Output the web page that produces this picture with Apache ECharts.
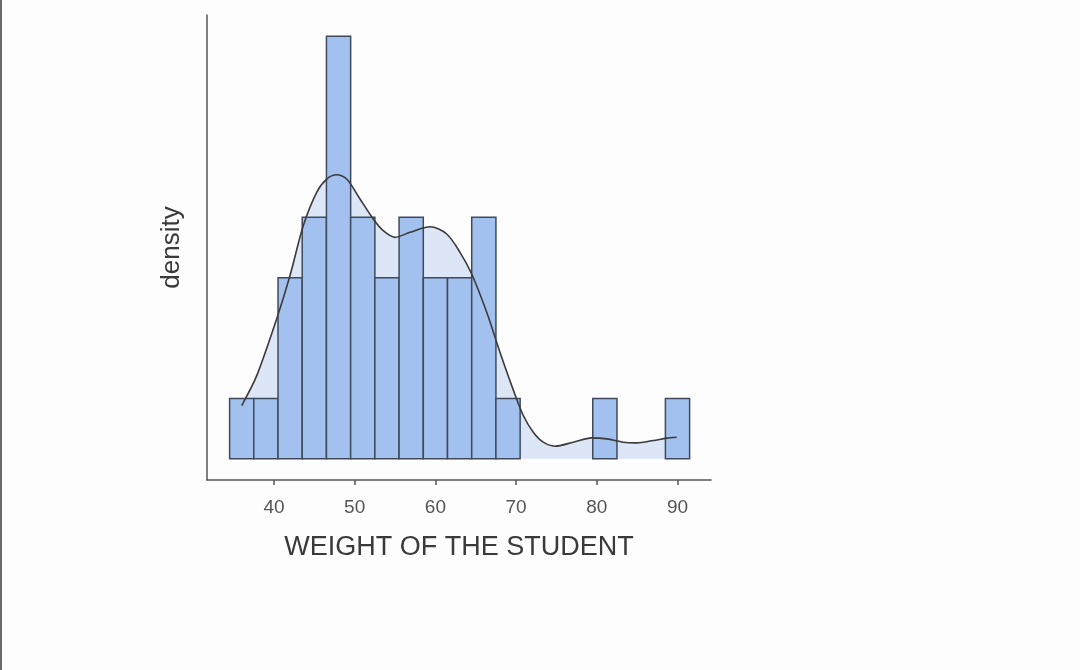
<!DOCTYPE html>
<html>
<head>
<meta charset="utf-8">
<script src="https://cdn.jsdelivr.net/npm/echarts@6/dist/echarts.min.js"></script>
<style>
  html, body { margin: 0; padding: 0; background: #fdfdfd; }
  #chart { position: absolute; left: 0; top: 0; width: 1080px; height: 670px; }
  #edge { position: absolute; left: 0; top: 0; width: 2px; height: 670px; background: #6b6b6b; }
</style>
</head>
<body>
<div id="chart"></div>
<div id="edge"></div>
<script>
// histogram bins: width 3, starting at 34.5
const binStart = 34.5;
const binWidth = 3;
const binCounts = [1, 1, 3, 4, 7, 4, 3, 4, 3, 3, 4, 1, 0, 0, 0, 1, 0, 0, 1];

// kernel density estimate
const densityX = [36.0, 37.86, 40.33, 41.98, 43.63, 45.29, 46.53, 47.77, 49.01, 50.66,
  52.3, 53.54, 54.99, 56.85, 59.33, 61.4, 63.05, 64.5, 66.36, 68.0,
  69.65, 70.89, 72.13, 73.37, 74.82, 77.09, 79.37, 81.23, 83.28, 84.94,
  87.0, 88.66, 89.9];
const densityY = [0.00735, 0.01148, 0.01931, 0.02528, 0.03218, 0.03678, 0.03861, 0.03921, 0.03861, 0.03586,
  0.0331, 0.03148, 0.03057, 0.03126, 0.03203, 0.03103, 0.0285, 0.02551, 0.02023, 0.01471,
  0.00952, 0.00598, 0.00368, 0.0023, 0.00175, 0.0023, 0.0029, 0.00276, 0.0023, 0.00221,
  0.00253, 0.00286, 0.00299];

const xTicks = [40, 50, 60, 70, 80, 90];

const total = binCounts.reduce((a, b) => a + b, 0);
const binData = binCounts.map((c, i) => [binStart + i * binWidth, binStart + (i + 1) * binWidth, c / (total * binWidth)]);
const curveData = densityX.map((x, i) => [x, densityY[i]]);
const maxBar = Math.max(...binData.map(d => d[2]));

const chart = echarts.init(document.getElementById("chart"));

chart.setOption({
  animation: false,
  grid: { left: 207, right: 369, top: 15, bottom: 190 },
  xAxis: {
    type: "value",
    min: 31.7,
    max: 94.15,
    interval: 10,
    name: "WEIGHT OF THE STUDENT",
    nameLocation: "middle",
    nameGap: 54,
    nameTextStyle: { fontSize: 27, color: "#3a3a3a", fontFamily: "Liberation Sans" },
    axisLine: { onZero: false, lineStyle: { color: "#555", width: 1.5 } },
    axisTick: { show: true, length: 5, lineStyle: { color: "#555", width: 1.5 }, customValues: xTicks },
    axisLabel: {
      color: "#555",
      fontSize: 19,
      margin: 18,
      fontFamily: "Liberation Sans",
      customValues: xTicks,
    },
    splitLine: { show: false },
  },
  yAxis: {
    type: "value",
    min: -0.05 * maxBar,
    max: 1.05 * maxBar,
    name: "density",
    nameLocation: "middle",
    nameGap: 22,
    nameTextStyle: { fontSize: 26, color: "#3a3a3a", fontFamily: "Liberation Sans" },
    axisLine: { show: true, lineStyle: { color: "#555", width: 1.5 } },
    axisTick: { show: false },
    axisLabel: { show: false },
    splitLine: { show: false },
  },
  series: [
    {
      // density fill behind the bars
      type: "line",
      data: curveData,
      smooth: 0.3,
      showSymbol: false,
      lineStyle: { width: 0 },
      areaStyle: { color: "#dce6f6", opacity: 1, origin: 0 },
      z: 1,
    },
    {
      type: "custom",
      data: binData,
      renderItem: function (params, api) {
        if (api.value(2) === 0) return;
        const p0 = api.coord([api.value(0), api.value(2)]);
        const p1 = api.coord([api.value(1), 0]);
        return {
          type: "rect",
          shape: { x: p0[0], y: p0[1], width: p1[0] - p0[0], height: p1[1] - p0[1] },
          style: { fill: "#a3c1ef", stroke: "#3f4b5c", lineWidth: 1.5 },
        };
      },
      z: 2,
    },
    {
      type: "line",
      data: curveData,
      smooth: 0.3,
      showSymbol: false,
      lineStyle: { color: "#3a3a3a", width: 1.6 },
      z: 3,
    },
  ],
});
</script>
</body>
</html>
